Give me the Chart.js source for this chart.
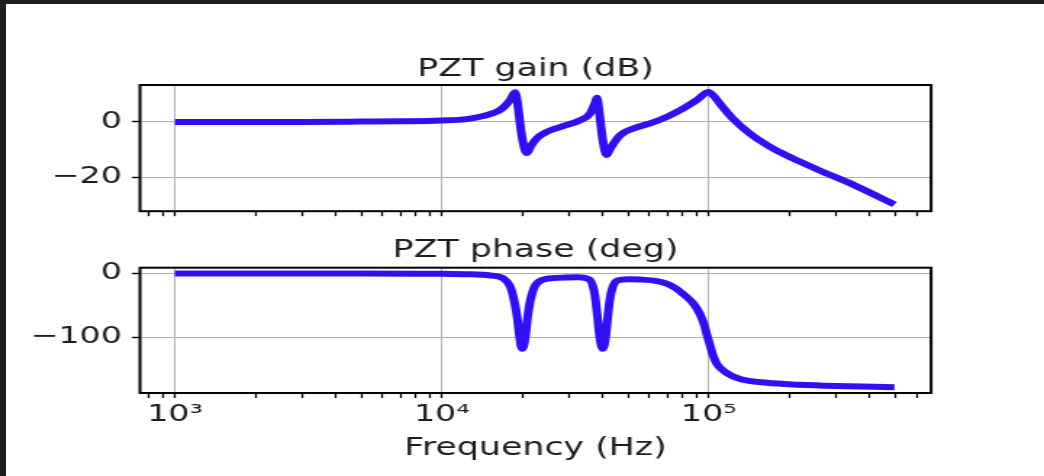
<!DOCTYPE html>
<html>
<head>
<meta charset="utf-8">
<script src="https://cdn.jsdelivr.net/npm/chart.js@4"></script>
<style>
  html, body { margin: 0; padding: 0; background: #fff; }
  body { width: 1044px; height: 476px; position: relative; overflow: hidden; }
  canvas { position: absolute; left: 0; }
  .edge { position: absolute; background: #1e1e1e; }
</style>
</head>
<body>
<canvas id="gainChart" width="720" height="232" style="top:0;width:1044px;height:232px"></canvas>
<canvas id="phaseChart" width="720" height="244" style="top:232px;width:1044px;height:244px"></canvas>
<div class="edge" style="left:0;top:0;width:1044px;height:4px"></div>
<div class="edge" style="left:0;top:0;width:6px;height:476px"></div>
<script>
// values
var gainFreq = [1000, 2000, 3000, 5000, 7000, 10000, 12400, 14300, 16600, 18000, 18800, 19200, 19600, 20100, 20800,
  21600, 23000, 24700, 28500, 33000, 35900, 37500, 38100, 38700, 39500, 40300, 41400, 42800, 46500, 52000,
  60000, 69500, 80000, 90000, 99600, 106000, 110000, 123000, 142000, 165000, 190000, 218000, 260000, 350000, 496000];
var gainDb = [0, 0, 0, 0.1, 0.2, 0.5, 1.0, 2.1, 4.4, 7.8, 10.7, 7, 0, -7, -11.2,
  -8.5, -5.4, -3.6, -1.5, 0.6, 3.0, 7.0, 8.7, 5, -2, -8, -11.9, -9.5, -4.8, -2.4,
  -0.6, 1.8, 4.8, 7.8, 10.8, 8.6, 6.6, 1.2, -4.1, -8.3, -11.5, -14.2, -17.5, -22.8, -29.8];

var phaseFreq = [1000, 5000, 10000, 13000, 15000, 17000, 18000, 18600, 19100, 19500, 19750, 20000, 20300, 20600,
  21000, 21500, 22300, 23800, 27000, 32000, 35500, 36800, 37600, 38200, 38900, 39500, 40000, 40600, 41200,
  41900, 42600, 43600, 45500, 50000, 55000, 64000, 69500, 75000, 80000, 87500, 92500, 96000, 98500, 101000,
  103500, 107000, 116000, 131000, 165000, 218000, 300000, 496000];
var phaseDeg = [0, 0, -0.5, -1.5, -3, -8, -20, -40, -65, -95, -112, -118, -112, -95,
  -65, -40, -20, -10, -7, -6, -9, -20, -40, -65, -95, -112, -118, -112, -95,
  -65, -40, -22, -11, -9, -9.5, -12, -16, -23, -32, -47, -63, -80, -97, -112,
  -127, -141, -155, -165, -171, -174, -176, -178];

var decades = [1000, 10000, 100000];
var decadeLabels = ['10\u00b3', '10\u2074', '10\u2075'];
var xTickValues = [800, 900, 1000, 2000, 3000, 4000, 5000, 6000, 7000, 8000, 9000, 10000, 20000, 30000, 40000,
  50000, 60000, 70000, 80000, 90000, 100000, 200000, 300000, 400000, 500000, 600000];
var gainTicks = [-20, 0];
var phaseTicks = [-100, 0];
var titles = ['PZT gain (dB)', 'PZT phase (deg)'];
var xTitle = 'Frequency (Hz)';

var lineColor = '#3010f0';
var gridColor = '#b0b0b0';
var textColor = '#1c1c1c';
Chart.defaults.font.family = '"DejaVu Sans", sans-serif';
Chart.defaults.animation = false;

function fmt(v) { return v < 0 ? '\u2212' + Math.abs(v) : String(v); }
function pts(xs, ys) { return xs.map(function (x, i) { return {x: x, y: ys[i]}; }); }

// box frame + panel title over the plot area
var panelTitle = {
  id: 'panelTitle',
  afterDraw: function (chart, args, opts) {
    var ctx = chart.ctx, a = chart.chartArea;
    ctx.save();
    ctx.strokeStyle = '#000';
    ctx.lineWidth = 2;
    ctx.strokeRect(a.left, a.top, a.right - a.left, a.bottom - a.top);
    ctx.fillStyle = textColor;
    ctx.font = '24px "DejaVu Sans"';
    ctx.textAlign = 'center';
    ctx.textBaseline = 'alphabetic';
    ctx.fillText(opts.text, (a.left + a.right) / 2, opts.baseline);
    ctx.restore();
  }
};

function xAxis(showLabels, height) {
  var ax = {
    type: 'logarithmic', min: 740, max: 680000, bounds: 'data',
    afterBuildTicks: function (s) { s.ticks = xTickValues.map(function (v) { return {value: v}; }); },
    afterFit: function (s) { s.height = height; },
    border: {display: false},
    grid: {
      color: function (c) { return c.tick && decades.indexOf(c.tick.value) >= 0 ? gridColor : 'rgba(0,0,0,0)'; },
      lineWidth: 1, tickLength: 5, tickColor: '#000', tickWidth: 1.3
    },
    ticks: {
      autoSkip: false, maxRotation: 0, minRotation: 0, padding: 3, color: textColor, font: {size: 23},
      callback: function (v) { var i = decades.indexOf(v); return showLabels && i >= 0 ? decadeLabels[i] : ''; }
    }
  };
  if (showLabels) {
    ax.title = {display: true, text: xTitle, color: textColor, font: {size: 24}, padding: {top: 0, bottom: 13}};
  }
  return ax;
}

function yAxis(min, max, tickVals) {
  return {
    min: min, max: max,
    afterBuildTicks: function (s) { s.ticks = tickVals.map(function (v) { return {value: v}; }); },
    afterFit: function (s) { s.width = 96.55; },
    border: {display: false},
    grid: {color: gridColor, lineWidth: 1, tickLength: 5.5, tickColor: '#000', tickWidth: 1.4},
    ticks: {padding: 7, color: textColor, font: {size: 23}, callback: fmt}
  };
}

function makeChart(id, data, y, x, padTop, title, baseline) {
  return new Chart(document.getElementById(id), {
    type: 'line',
    data: {
      datasets: [{
        data: data,
        borderColor: lineColor,
        borderWidth: 6,
        pointRadius: 0,
        fill: false,
        cubicInterpolationMode: 'monotone'
      }]
    },
    options: {
      responsive: false,
      devicePixelRatio: 1,
      layout: {padding: {top: padTop, right: 77.9, left: 0, bottom: 0}},
      scales: {x: x, y: y},
      plugins: {
        legend: {display: false},
        tooltip: {enabled: false},
        panelTitle: {text: title, baseline: baseline}
      }
    },
    plugins: [panelTitle]
  });
}

makeChart('gainChart', pts(gainFreq, gainDb), yAxis(-32.2, 13.3, gainTicks), xAxis(false, 19), 85, titles[0], 76);
makeChart('phaseChart', pts(phaseFreq, phaseDeg), yAxis(-187, 8.9, phaseTicks), xAxis(true, 83), 35.7, titles[1], 24.7);
</script>
</body>
</html>
